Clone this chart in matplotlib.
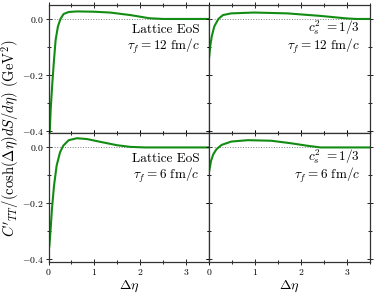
import matplotlib
matplotlib.use("Agg")
import matplotlib.pyplot as plt
from matplotlib.ticker import MultipleLocator, FormatStrFormatter

plt.rcParams["font.family"] = "serif"
plt.rcParams["font.serif"] = ["cmr10", "DejaVu Serif"]
plt.rcParams["mathtext.fontset"] = "cm"
plt.rcParams["axes.formatter.use_mathtext"] = True

# (delta eta, C'_TT / (cosh dS/deta))
lat12_x = [0.0, 0.026, 0.047, 0.083, 0.12, 0.155, 0.205, 0.26, 0.33, 0.44, 0.62, 0.98, 1.34, 1.78, 2.2, 2.5, 3.5]
lat12_y = [-0.44, -0.408, -0.325, -0.23, -0.146, -0.075, -0.027, 0.0, 0.018, 0.025, 0.027, 0.026, 0.023, 0.014, 0.0025, 0.0, 0.0]

cs12_x = [0.0, 0.025, 0.055, 0.11, 0.2, 0.3, 0.48, 0.98, 1.7, 2.42, 2.99, 3.2, 3.5]
cs12_y = [-0.135, -0.095, -0.063, -0.027, 0.0, 0.014, 0.02, 0.023, 0.02, 0.011, 0.002, 0.0, 0.0]

lat6_x = [0.0, 0.02, 0.047, 0.075, 0.12, 0.177, 0.25, 0.32, 0.44, 0.62, 0.84, 1.13, 1.49, 1.78, 2.1, 3.5]
lat6_y = [-0.375, -0.35, -0.29, -0.22, -0.137, -0.065, -0.018, 0.006, 0.026, 0.033, 0.03, 0.02, 0.008, 0.002, 0.0, 0.0]

cs6_x = [0.0, 0.04, 0.09, 0.16, 0.27, 0.48, 0.84, 1.35, 1.78, 2.14, 2.43, 3.5]
cs6_y = [-0.085, -0.048, -0.024, -0.006, 0.009, 0.021, 0.026, 0.024, 0.015, 0.006, 0.0, 0.0]

panel_labels = [
    ["Lattice EoS", r"$\tau_f=$12 fm/$c$"],
    [r"$c_s^2\ =$1/3", r"$\tau_f=$12 fm/$c$"],
    ["Lattice EoS", r"$\tau_f=$6 fm/$c$"],
    [r"$c_s^2\ =$1/3", r"$\tau_f=$6 fm/$c$"],
]
curves = [(lat12_x, lat12_y), (cs12_x, cs12_y), (lat6_x, lat6_y), (cs6_x, cs6_y)]

fig, axes = plt.subplots(2, 2, figsize=(3.74, 2.94), dpi=100, sharex=True, sharey=True)
fig.subplots_adjust(left=0.1297, right=0.989, top=0.983, bottom=0.109, wspace=0, hspace=0)

for i, ax in enumerate(axes.flatten()):
    x, y = curves[i]
    ax.axhline(0, color="0.5", ls=":", lw=0.7)
    ax.plot(x, y, color="#138c13", lw=1.5)
    ax.set_xlim(0, 3.5)
    ax.set_ylim(-0.41, 0.05)
    ax.xaxis.set_major_locator(MultipleLocator(1))
    ax.xaxis.set_minor_locator(MultipleLocator(0.5))
    ax.yaxis.set_major_locator(MultipleLocator(0.2))
    ax.yaxis.set_minor_locator(MultipleLocator(0.1))
    ax.tick_params(which="both", direction="inout", top=True, right=True, labelsize=7, pad=1.5)
    ax.tick_params(which="major", length=4, width=0.6)
    ax.tick_params(which="minor", length=2.5, width=0.6)
    for sp in ax.spines.values():
        sp.set_linewidth(0.9)
        sp.set_color("0.2")
    top_y = 0.79 if i % 2 else 0.78
    ax.text(0.94, top_y, panel_labels[i][0], transform=ax.transAxes,
            ha="right", va="baseline", fontsize=9.5)
    ax.text(0.94, 0.65, panel_labels[i][1], transform=ax.transAxes,
            ha="right", va="baseline", fontsize=9.5)
    if i >= 2:
        ax.set_xlabel(r"$\Delta\eta$", fontsize=10, labelpad=1)

axes[0, 0].yaxis.set_major_formatter(FormatStrFormatter("$%.1f$"))

fig.text(0.026, 0.53, r"$C'_{TT}/(\cosh(\Delta\eta)dS/d\eta)$ (GeV$^2$)",
         rotation=90, ha="center", va="center", fontsize=10.5)

fig.savefig("out.png", dpi=100)
